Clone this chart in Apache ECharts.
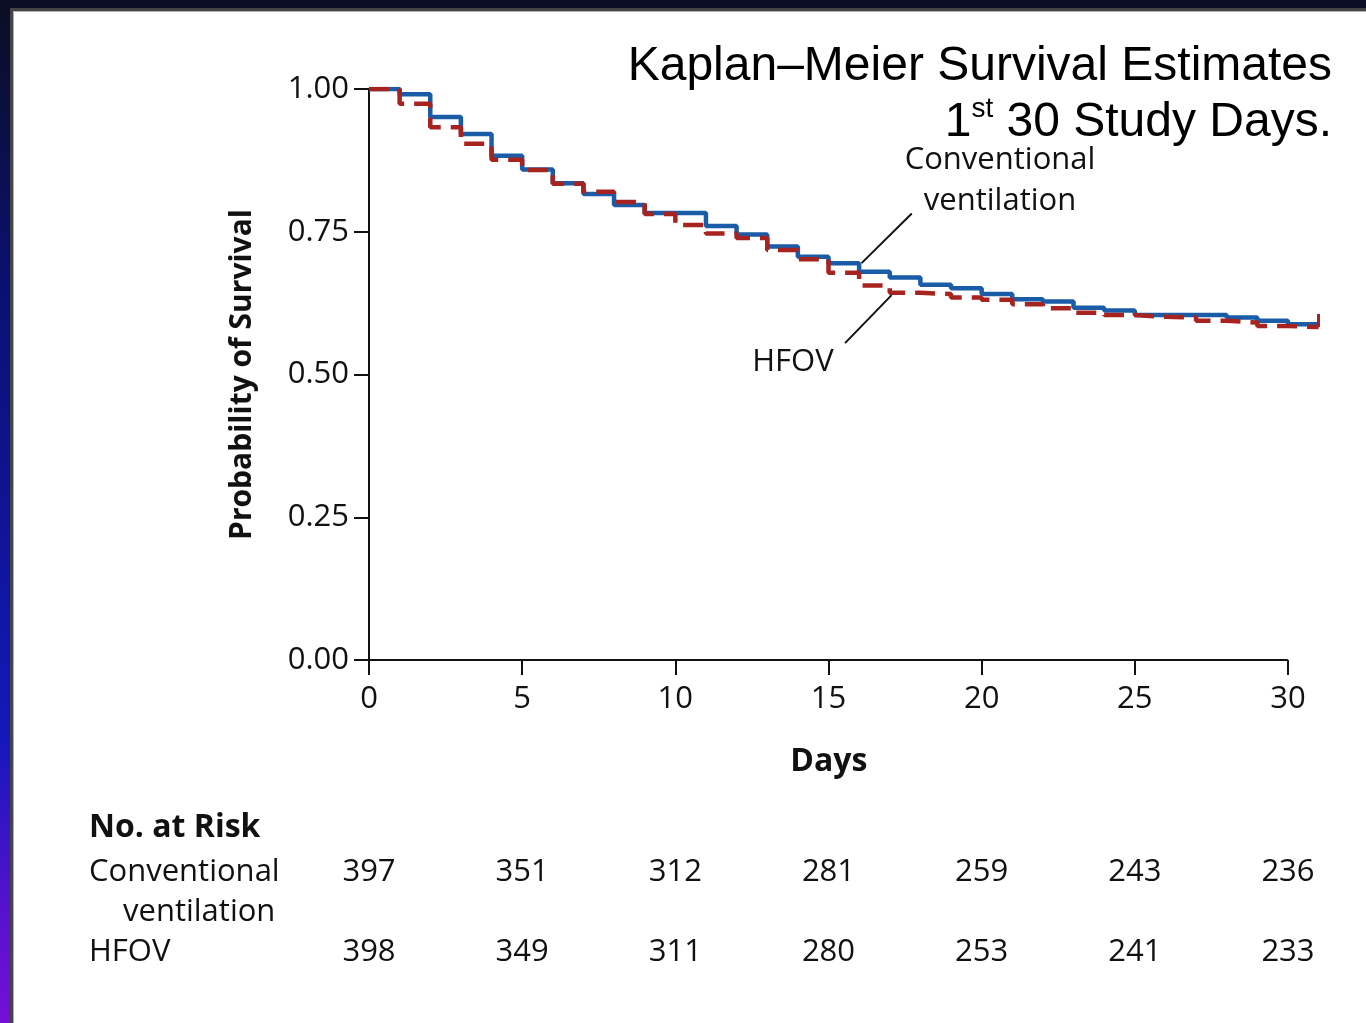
<!DOCTYPE html>
<html>
<head>
<meta charset="utf-8">
<title>Kaplan–Meier Survival Estimates</title>
<script src="https://cdn.jsdelivr.net/npm/echarts@6/dist/echarts.min.js"></script>
<style>
  html, body { margin: 0; padding: 0; width: 1366px; height: 1023px; overflow: hidden; }
  body { background: linear-gradient(to bottom, #0b0e22 0%, #0a1070 28%, #1418b8 72%, #5a12cc 90%, #7410d4 100%); position: relative; }
  #panel { position: absolute; left: 10px; top: 8px; right: 0; bottom: 0; background: #ffffff;
           border-left: 3px solid #454545; border-top: 3px solid #454545;
           box-shadow: inset 1px 1px 0 #b0b0b0; }
  #chart { position: absolute; left: 0; top: 0; width: 1366px; height: 1023px; }
</style>
</head>
<body>
<div id="panel"></div>
<div id="chart"></div>
<script>
// Kaplan–Meier step estimates, one value per study day (value holds from that day on)
const days = [0, 1, 2, 3, 4, 5, 6, 7, 8, 9, 10, 11, 12, 13, 14, 15, 16, 17, 18, 19, 20, 21, 22, 23, 24, 25, 26, 27, 28, 29, 30, 31];
const survConventional = [1.000, 0.991, 0.951, 0.921, 0.883, 0.859, 0.835, 0.816, 0.797, 0.783, 0.783, 0.760, 0.745, 0.724, 0.706, 0.695,
                          0.680, 0.670, 0.657, 0.651, 0.641, 0.632, 0.628, 0.617, 0.612, 0.604, 0.604, 0.604, 0.600, 0.594, 0.588, 0.588];
const survHfov = [1.000, 0.974, 0.933, 0.904, 0.876, 0.858, 0.834, 0.820, 0.802, 0.781, 0.762, 0.747, 0.739, 0.718, 0.702, 0.678,
                  0.656, 0.643, 0.641, 0.635, 0.631, 0.623, 0.616, 0.608, 0.604, 0.601, 0.600, 0.594, 0.591, 0.585, 0.583, 0.583];

// censoring tick at the end of the HFOV curve: [day, from, to]
const hfovCensor = [31, 0.583, 0.606];

// axis ticks; the curves run one day past the last labelled tick
const dayTicks = [0, 5, 10, 15, 20, 25, 30];
const dayMax = 31;
const survTicks = [0, 0.25, 0.5, 0.75, 1.0];

// number at risk table
const riskDays = [0, 5, 10, 15, 20, 25, 30];
const riskConventional = [397, 351, 312, 281, 259, 243, 236];
const riskHfov = [398, 349, 311, 280, 253, 241, 233];

// curve labels and their leader lines (data coordinates)
const convLabelAt = [20.6, 0.839];
const convLeader = [[16.08, 0.695], [17.72, 0.782]];
const hfovLabelAt = [13.84, 0.522];
const hfovLeader = [[17.06, 0.639], [15.54, 0.555]];

const FONT = '"Open Sans", "Noto Sans", sans-serif';
const TITLE_FONT = '"Liberation Sans", Arial, sans-serif';
const BLUE = '#1b5ca8';
const RED = '#a6231f';
const INK = '#111';

const chart = echarts.init(document.getElementById('chart'), null, { renderer: 'canvas' });

const option = {
  animation: false,
  backgroundColor: 'transparent',
  grid: { left: 369, right: 47.4, top: 89, bottom: 363, containLabel: false },
  xAxis: {
    type: 'value',
    min: dayTicks[0],
    max: dayMax,
    interval: dayTicks[1] - dayTicks[0],
    name: 'Days',
    nameLocation: 'middle',
    nameGap: 86,
    nameTextStyle: { fontFamily: FONT, fontSize: 32, fontWeight: 'bold', color: INK, padding: [0, 30, 0, 0] },
    axisLine: { show: false },
    axisTick: { show: true, inside: false, length: 15, customValues: dayTicks, lineStyle: { color: INK, width: 2 } },
    axisLabel: { margin: 24, fontFamily: FONT, fontSize: 31, color: INK, customValues: dayTicks },
    splitLine: { show: false }
  },
  yAxis: {
    type: 'value',
    min: survTicks[0],
    max: survTicks[survTicks.length - 1],
    interval: survTicks[1] - survTicks[0],
    name: 'Probability of Survival',
    nameLocation: 'middle',
    nameGap: 112,
    nameRotate: 90,
    nameTextStyle: { fontFamily: FONT, fontSize: 30, fontWeight: 'bold', color: INK },
    axisLine: { show: true, lineStyle: { color: INK, width: 2 } },
    axisTick: { show: true, inside: false, length: 15, lineStyle: { color: INK, width: 2 } },
    axisLabel: { margin: 20, fontFamily: FONT, fontSize: 31, color: INK, padding: [4, 0, 0, 0], formatter: v => v.toFixed(2) },
    splitLine: { show: false }
  },
  series: [
    {
      name: 'Conventional ventilation',
      type: 'line',
      step: 'end',
      symbol: 'none',
      z: 3,
      lineStyle: { color: BLUE, width: 4.5 },
      data: days.map((d, i) => [d, survConventional[i]])
    },
    {
      name: 'HFOV',
      type: 'line',
      step: 'end',
      symbol: 'none',
      z: 4,
      lineStyle: { color: RED, width: 4.5, type: [20, 10] },
      data: days.map((d, i) => [d, survHfov[i]]),
      markLine: {
        silent: true,
        symbol: 'none',
        label: { show: false },
        lineStyle: { color: RED, width: 3, type: 'solid' },
        data: [[{ coord: [hfovCensor[0], hfovCensor[1]] }, { coord: [hfovCensor[0], hfovCensor[2]] }]]
      }
    },
    {
      // leader lines from the curve labels to their curves
      type: 'lines',
      coordinateSystem: 'cartesian2d',
      silent: true,
      z: 5,
      lineStyle: { color: INK, width: 2, opacity: 1 },
      data: [{ coords: convLeader }, { coords: hfovLeader }]
    },
    {
      // day axis baseline, ending at the last labelled tick
      type: 'lines',
      coordinateSystem: 'cartesian2d',
      silent: true,
      z: 2,
      lineStyle: { color: INK, width: 2, opacity: 1 },
      data: [{ coords: [[dayTicks[0], survTicks[0]], [dayTicks[dayTicks.length - 1], survTicks[0]]] }]
    }
  ]
};

chart.setOption(option);

const px = p => chart.convertToPixel({ gridIndex: 0 }, p);

const graphics = [];

// plot title
graphics.push({
  type: 'text',
  z: 10,
  style: {
    x: 1332, y: 39, align: 'right', verticalAlign: 'top',
    text: '{n|Kaplan–Meier Survival Estimates}\n{n|1}{sup|st}{n| 30 Study Days.}',
    fontFamily: TITLE_FONT, fontSize: 48, lineHeight: 56, fill: '#000',
    rich: {
      n: { fontFamily: TITLE_FONT, fontSize: 48, lineHeight: 56, fill: '#000' },
      sup: { fontFamily: TITLE_FONT, fontSize: 28, lineHeight: 56, fill: '#000', verticalAlign: 'top', padding: [0, 0, 16, 0] }
    }
  }
});

// curve labels
const convPx = px(convLabelAt);
graphics.push({
  type: 'text', z: 10,
  style: { x: convPx[0], y: convPx[1], align: 'center', verticalAlign: 'middle',
           text: 'Conventional\nventilation', lineHeight: 41,
           fontFamily: FONT, fontSize: 31, fill: INK }
});
const hfovPx = px(hfovLabelAt);
graphics.push({
  type: 'text', z: 10,
  style: { x: hfovPx[0], y: hfovPx[1], align: 'center', verticalAlign: 'middle',
           text: 'HFOV', fontFamily: FONT, fontSize: 31, fill: INK }
});

// number at risk table
const rowHead = 828, rowConv = 872, rowConv2 = 912, rowHfov = 952;
const tableText = (x, y, text, opts) => ({
  type: 'text', z: 10,
  style: Object.assign({ x, y, text, align: 'left', verticalAlign: 'middle',
                         fontFamily: FONT, fontSize: 31, fill: INK }, opts || {})
});
graphics.push(tableText(89, rowHead, 'No. at Risk', { fontWeight: 'bold', fontSize: 32 }));
graphics.push(tableText(89, rowConv, 'Conventional'));
graphics.push(tableText(123, rowConv2, 'ventilation'));
graphics.push(tableText(89, rowHfov, 'HFOV'));
riskDays.forEach((d, i) => {
  const x = px([d, 0])[0];
  graphics.push(tableText(x, rowConv, String(riskConventional[i]), { align: 'center' }));
  graphics.push(tableText(x, rowHfov, String(riskHfov[i]), { align: 'center' }));
});

chart.setOption({ graphic: graphics });
</script>
</body>
</html>
